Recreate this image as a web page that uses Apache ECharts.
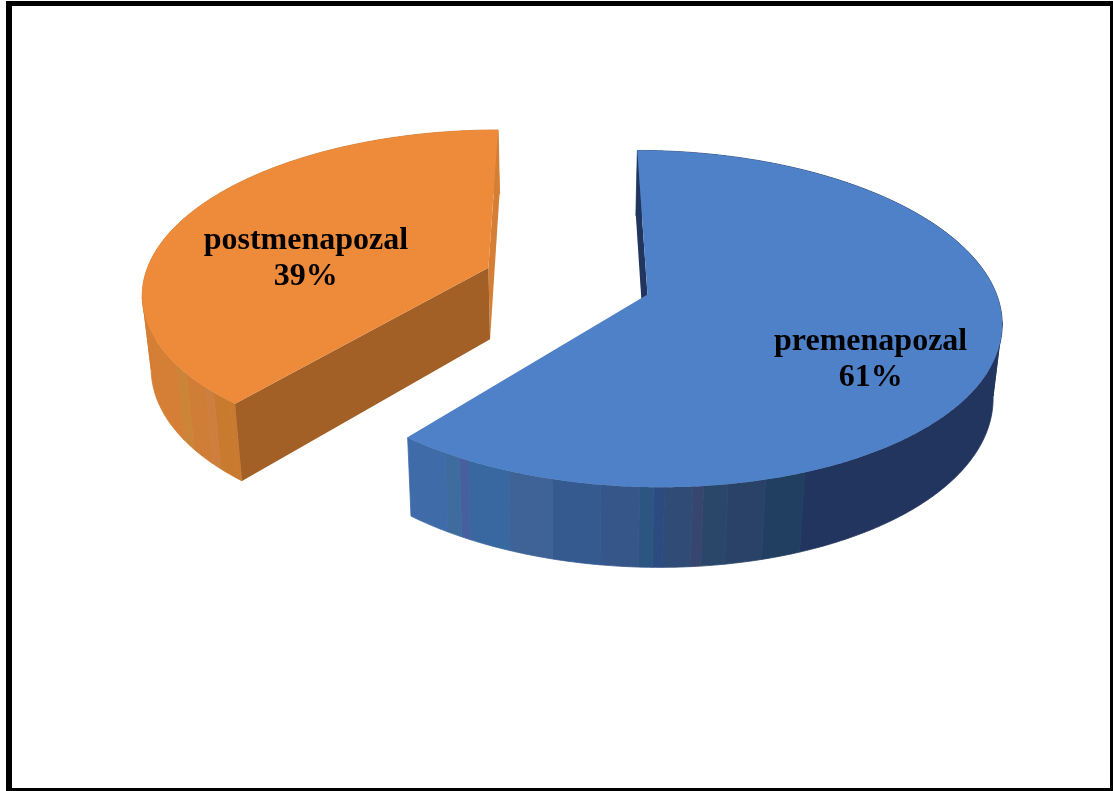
<!DOCTYPE html>
<html>
<head>
<meta charset="utf-8">
<style>html,body{margin:0;padding:0;background:#fff}#c{width:1113px;height:791px}</style>
<script src="https://cdn.jsdelivr.net/npm/echarts@6/dist/echarts.min.js"></script>
</head>
<body>
<div id="c"></div>
<script>
// --- data ---
const categories = ['premenapozal', 'postmenapozal'];
const shares = [61, 39];

// --- appearance / camera (not data) ---
const topColors = ['#4f81c8', '#ed8b3b'];
const startFaceColors = ['#21355f', '#a25f26'];
const endFaceColors = ['#21355f', '#d47f35'];
// wall shading bands: [right-hand screen x limit, colour]
const wallBands = [
  [[445,'#3f6ba9'],[458,'#3e6c9e'],[468,'#46609f'],[507,'#39679f'],[552,'#3f6297'],[600,'#355a90'],
   [637,'#365589'],[652,'#2d5582'],[663,'#2b4b81'],[693,'#304b75'],[702,'#37466f'],[727,'#2a4669'],
   [763,'#2b4268'],[803,'#203f61'],[2000,'#21355f']],
  [[175,'#d47f35'],[185,'#cc8438'],[205,'#cf7d37'],[212,'#cd7f3f'],[230,'#c87b2f'],[2000,'#ca7a30']]
];
const labelRadius = [0.65, 0.592];
const labelDrop = [28, 21.5];
const cam = {x0:567, y0:281, a:345, b:161, p:0.1427, explode:0.245, shrink:0.979, h0:72, h1:7.5};

function project(wx, wz) {
  const d = 1 - cam.p * wz;
  return [cam.x0 + cam.a * wx / d, cam.y0 + cam.b * wz / d];
}
function lower(pt, wz) {
  return [cam.x0 + (pt[0] - cam.x0) * cam.shrink, pt[1] + cam.h0 + cam.h1 * wz];
}
function area(poly) {
  let s = 0;
  for (let i = 0; i < poly.length; i++) {
    const a = poly[i], b = poly[(i + 1) % poly.length];
    s += a[0] * b[1] - b[0] * a[1];
  }
  return s;
}
const total = shares.reduce((a, b) => a + b, 0);

function renderSlice(params, api) {
  const i = params.dataIndex;
  const val = api.value(0);
  let before = 0;
  for (let k = 0; k < i; k++) before += shares[k];
  const t0 = before / total * 2 * Math.PI;
  const t1 = (before + val) / total * 2 * Math.PI;
  const mid = (t0 + t1) / 2;
  const ox = cam.explode * Math.sin(mid), oz = -cam.explode * Math.cos(mid);
  const rimW = t => [ox + Math.sin(t), oz - Math.cos(t)];
  const top = t => { const w = rimW(t); return project(w[0], w[1]); };
  const bot = t => { const w = rimW(t); return lower(project(w[0], w[1]), w[1]); };
  const apexT = project(ox, oz), apexB = lower(apexT, oz);
  const children = [];
  const step = Math.PI / 360;
  const bands = wallBands[i];
  const bandOf = x => { for (let b = 0; b < bands.length; b++) if (x <= bands[b][0]) return b; return bands.length - 1; };

  // outer wall, merged into shaded bands; a band is split where the rim turns back in x
  let run = null;
  const flush = () => {
    if (!run || run.ts.length < 2) return;
    const up = run.ts.map(top), dn = run.ts.map(bot).reverse();
    const c = bands[run.b][1];
    children.push({type:'polygon', shape:{points: up.concat(dn)}, style:{fill:c, stroke:c, lineWidth:0.8}});
  };
  for (let t = t0; t < t1 + step / 2; t += step) {
    const tt = Math.min(t, t1);
    const x = top(tt)[0];
    const b = bandOf(x);
    const dir = Math.sign(top(Math.min(tt + step, t1 + step))[0] - x);
    if (!run || run.b !== b || run.dir !== dir) {
      const last = run ? run.ts[run.ts.length - 1] : null;
      flush();
      run = {b, dir, ts: last !== null ? [last] : []};
    }
    run.ts.push(tt);
  }
  flush();

  // cut faces, only when they face the viewer
  const sF = [apexT, top(t0), bot(t0), apexB];
  const eF = [apexT, top(t1), bot(t1), apexB];
  if (area(eF) > 0) children.push({type:'polygon', shape:{points:eF}, style:{fill:endFaceColors[i]}});
  if (area(sF) < 0) children.push({type:'polygon', shape:{points:sF}, style:{fill:startFaceColors[i]}});

  // top face
  const pts = [apexT];
  for (let t = t0; t < t1; t += step) pts.push(top(t));
  pts.push(top(t1));
  children.push({type:'polygon', shape:{points:pts}, style:{fill:topColors[i]}});

  // label
  const lr = labelRadius[i];
  const lp = project(ox + lr * Math.sin(mid), oz - lr * Math.cos(mid));
  children.push({
    type:'text',
    style:{
      text: categories[i] + '\n' + Math.round(val / total * 100) + '%',
      x: lp[0], y: lp[1] + labelDrop[i],
      fill:'#000', textAlign:'center', textVerticalAlign:'middle',
      fontFamily:'"Liberation Serif", serif', fontWeight:'bold', fontSize:32, lineHeight:36
    }
  });
  return {type:'group', children};
}

const chart = echarts.init(document.getElementById('c'), null, {renderer:'canvas'});
const black = {fill:'#000'};
chart.setOption({
  backgroundColor:'#fff',
  animation:false,
  graphic:[
    {type:'rect', shape:{x:6, y:1, width:1107, height:5}, style:black},
    {type:'rect', shape:{x:6, y:1, width:6, height:790}, style:black},
    {type:'rect', shape:{x:1110, y:1, width:3, height:790}, style:black},
    {type:'rect', shape:{x:6, y:788, width:1107, height:3}, style:black}
  ],
  series:[{
    type:'custom',
    coordinateSystem:'none',
    renderItem:renderSlice,
    data:categories.map((n, k) => ({name:n, value:[shares[k]]}))
  }]
});
</script>
</body>
</html>
